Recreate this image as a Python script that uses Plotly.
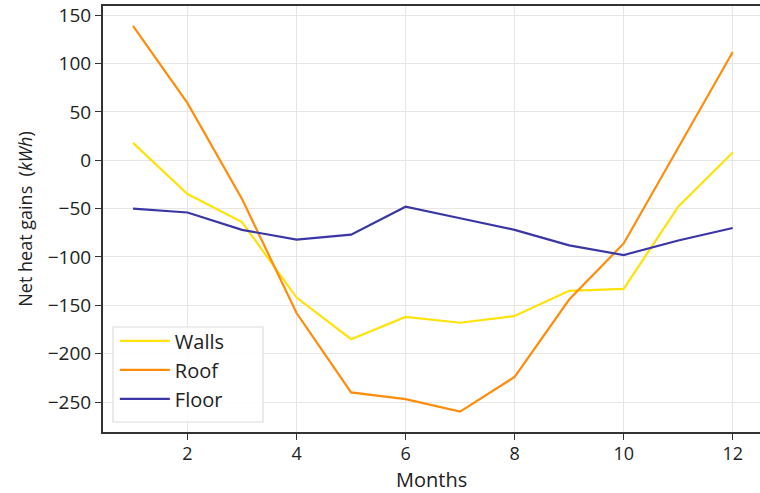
import plotly.graph_objects as go

# Monthly net heat gains by building element (kWh)
months = list(range(1, 13))
walls = [18, -35, -64, -142, -185, -162, -168, -161, -135, -133, -48, 8]
roof = [139, 59, -40, -158, -240, -247, -260, -224, -144, -86, 13, 112]
floor = [-50, -54, -72, -82, -77, -48, -60, -72, -88, -98, -83, -70]

series = [
    ("Walls", walls, "#FFE20A"),
    ("Roof", roof, "#FF8C0A"),
    ("Floor", floor, "#3B36A6"),
]

fig = go.Figure()
for name, vals, color in series:
    fig.add_trace(go.Scatter(
        x=months, y=vals, mode="lines", name=name,
        line=dict(color=color, width=2.2),
    ))

font_family = "Open Sans, DejaVu Sans, sans-serif"

# semi-transparent frame behind the legend entries
fig.add_shape(
    type="rect", xref="paper", yref="paper",
    x0=0.0152, x1=0.2435, y0=0.0235, y1=0.2465,
    line=dict(color="#DDDDDD", width=1.2),
    fillcolor="rgba(255,255,255,0.85)", layer="above",
)

# x-axis title placed below the tick labels
fig.add_annotation(
    text="Months", xref="paper", yref="paper",
    x=0.5, y=-0.1105, xanchor="center", yanchor="middle",
    showarrow=False, font=dict(size=20, color="#222"),
)

fig.update_layout(
    width=760, height=493,
    margin=dict(l=103, r=0, t=6, b=61),
    paper_bgcolor="white", plot_bgcolor="white",
    font=dict(family=font_family, size=18, color="#222"),
    showlegend=True,
    legend=dict(
        x=0.018, y=0.032, xanchor="left", yanchor="bottom",
        bgcolor="rgba(0,0,0,0)", borderwidth=0,
        font=dict(size=20, color="#222"),
        itemwidth=50,
        tracegroupgap=0,
    ),
    xaxis=dict(
        range=[0.45, 12.5],
        tickvals=[2, 4, 6, 8, 10, 12],
        showgrid=True, gridcolor="#E6E6E6", gridwidth=1,
        showline=True, linecolor="#333", linewidth=2, mirror=True,
        ticks="outside", ticklen=6, tickcolor="#333",
        tickfont=dict(size=18),
        ticklabelstandoff=-2,
        zeroline=False,
    ),
    yaxis=dict(
        range=[-281, 159.5],
        tickvals=[150, 100, 50, 0, -50, -100, -150, -200, -250],
        ticktext=["150", "100", "50", "0", "\u221250", "\u2212100",
                  "\u2212150", "\u2212200", "\u2212250"],
        showgrid=True, gridcolor="#E6E6E6", gridwidth=1,
        showline=True, linecolor="#333", linewidth=2,
        ticks="outside", ticklen=6, tickcolor="#333",
        tickfont=dict(size=19),
        zeroline=False,
        title=dict(text="Net heat gains  (<i>kWh</i>)", font=dict(size=18),
                   standoff=10),
    ),
)

fig.write_html("out.html")
